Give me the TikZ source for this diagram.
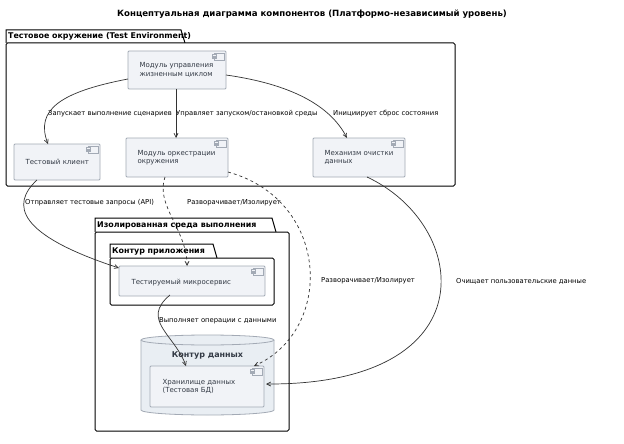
\documentclass[tikz,border=0pt]{standalone}
\usepackage{fontspec}
\setmainfont{DejaVu Sans}
\usetikzlibrary{arrows.meta}
\definecolor{nfill}{HTML}{F1F3F7}
\definecolor{nbord}{HTML}{A3AAB5}
\definecolor{cfill}{HTML}{E9EEF3}
\definecolor{txt}{HTML}{333A45}
\tikzset{
  comp/.style={draw=nbord,fill=nfill,line width=0.8pt,rounded corners=1pt},
  ctext/.style={text=txt,font=\fontsize{7}{8.5}\selectfont,align=left,anchor=west},
  pkg/.style={draw=black,line width=1pt,fill=white},
  ptitle/.style={font=\bfseries\fontsize{7.9}{9}\selectfont,anchor=west,inner sep=1pt},
  lbl/.style={font=\fontsize{6.8}{7.5}\selectfont,text=black,anchor=west,inner sep=1pt},
  edge/.style={draw=black!80,line width=0.7pt,-{Straight Barb[length=4pt,width=4pt]}},
  dedge/.style={edge,dash pattern=on 3pt off 3pt},
}
\newcommand{\cicon}[2]{%
  \draw[nbord,fill=nfill,line width=0.5pt] (#1-10,#2+2) rectangle (#1,#2+9);
  \draw[nbord,fill=nfill,line width=0.5pt] (#1-12,#2+3.5) rectangle (#1-8,#2+5);
  \draw[nbord,fill=nfill,line width=0.5pt] (#1-12,#2+6) rectangle (#1-8,#2+7.5);}
\begin{document}
\begin{tikzpicture}[x=1pt,y=-1pt]
\useasboundingbox[fill=white] (0,0) rectangle (624,444);
\node[font=\bfseries\fontsize{8.6}{9}\selectfont] (title) at (312,14) {Концептуальная диаграмма компонентов (Платформо-независимый уровень)};
% package 1
\draw[pkg] (6,43) -- (6,30) -- (181,30) -- (185,43);
\draw[pkg,rounded corners=1.5pt] (6,43) rectangle (455,186);
\node[ptitle] (p1) at (7,36.5) {Тестовое окружение (Test Environment)};
% package 2
\draw[pkg] (95,232) -- (95,218) -- (272,218) -- (276,232);
\draw[pkg,rounded corners=1.5pt] (95,232) rectangle (289,431);
\node[ptitle] (p2) at (96,225) {Изолированная среда выполнения};
% package 3
\draw[pkg] (110,258) -- (110,244) -- (213,244) -- (217,258);
\draw[pkg,rounded corners=1.5pt] (110,258) rectangle (274,305);
\node[ptitle] (p3) at (111,251) {Контур приложения};
% cylinder
\draw[draw=nbord,fill=cfill,line width=0.8pt] (141,340) -- (141,410) arc[start angle=180,end angle=360,x radius=66.5,y radius=-5] -- (274,340);
\draw[draw=nbord,fill=cfill,line width=0.8pt] (207.5,340) ellipse[x radius=66.5,y radius=5];
\node[font=\bfseries\fontsize{8}{9}\selectfont,text=txt] (dc) at (207.5,355) {Контур данных};
% components
\path[comp] (128,51) rectangle (226,89); \cicon{224}{51}
\node[ctext] (lc) at (136,70) {Модуль управления\\жизненным циклом};
\path[comp] (14,144) rectangle (100,180); \cicon{98}{144}
\node[ctext] (tc) at (22,162) {Тестовый клиент};
\path[comp] (126,138) rectangle (228,177); \cicon{226}{138}
\node[ctext] (or) at (134,157.5) {Модуль оркестрации\\окружения};
\path[comp] (313,138) rectangle (405,177); \cicon{403}{138}
\node[ctext] (cl) at (321,157.5) {Механизм очистки\\данных};
\path[comp] (119,266) rectangle (265,296); \cicon{263}{266}
\node[ctext] (ms) at (128,283) {Тестируемый микросервис};
\path[comp] (150,366) rectangle (264,407); \cicon{262}{366}
\node[ctext] (db) at (159,386.5) {Хранилище данных\\(Тестовая БД)};
% named anchor coordinates
\coordinate (lcL) at (128,79); \coordinate (lcR) at (226,75); \coordinate (lcB) at (176,89);
\coordinate (tcT) at (48,144); \coordinate (orT) at (176,138); \coordinate (clT) at (347,138);
\coordinate (tcB) at (37,180); \coordinate (msL) at (119,268);
\coordinate (orB) at (165,177); \coordinate (msT) at (187,266);
\coordinate (orR) at (228,172); \coordinate (dbT) at (254,366);
\coordinate (clB) at (367,177); \coordinate (dbR) at (266,384);
\coordinate (msB) at (170,295); \coordinate (dbT2) at (186,366);
% edges
\draw[edge] (lcL) .. controls (60,92) and (35,110) .. (tcT);
\node[lbl] (l1) at (47,114) {Запускает выполнение сценариев};
\draw[edge] (lcB) -- (orT);
\node[lbl] (l2) at (175,114) {Управляет запуском/остановкой среды};
\draw[edge] (lcR) .. controls (290,84) and (330,105) .. (clT);
\node[lbl] (l3) at (332,114) {Инициирует сброс состояния};
\draw[edge] (tcB) .. controls (10,205) and (18,235) .. (msL);
\node[lbl] (l4) at (24,203) {Отправляет тестовые запросы (API)};
\draw[dedge] (orB) .. controls (155,205) and (187,230) .. (msT);
\node[lbl] (l5) at (186,203) {Разворачивает/Изолирует};
\draw[dedge] (orR) .. controls (330,200) and (335,330) .. (dbT);
\node[lbl] (l6) at (320,281) {Разворачивает/Изолирует};
\draw[edge] (clB) .. controls (470,225) and (490,385) .. (dbR);
\node[lbl] (l7) at (455,281) {Очищает пользовательские данные};
\draw[edge] (msB) .. controls (140,320) and (175,335) .. (dbT2);
\node[lbl] (l8) at (158,321) {Выполняет операции с данными};
\end{tikzpicture}
\end{document}
